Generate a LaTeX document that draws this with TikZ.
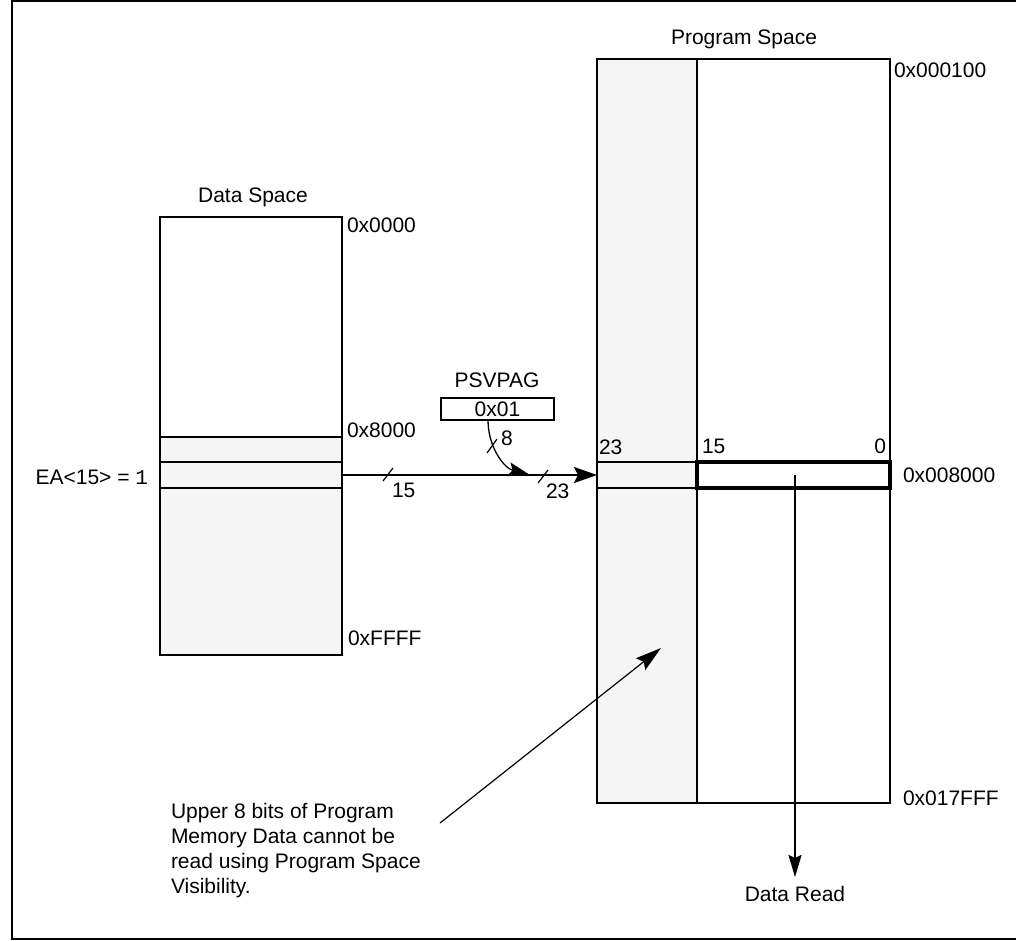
\documentclass[tikz,border=0pt]{standalone}
\usepackage{fontspec}
\setmainfont{Liberation Sans}
\newfontfamily\monofnt{Liberation Mono}
\usetikzlibrary{arrows.meta}
\definecolor{memgray}{RGB}{245,245,245}
\begin{document}
\begin{tikzpicture}[x=1pt,y=-1pt,
  every node/.style={font=\fontsize{21}{25}\selectfont, inner sep=0pt, outer sep=0pt},
  box/.style={draw, line width=2pt},
  lbl/.style={anchor=base west},
  bigtip/.style={-{Stealth[length=23pt,width=16pt,inset=4pt]}},
  midtip/.style={-{Stealth[length=22pt,width=14pt,inset=4pt]}},
  smalltip/.style={-{Stealth[length=22pt,width=13pt,inset=3pt]}},
  slash/.style={line width=1.2pt}]
\useasboundingbox (0,0) rectangle (1016,940);
% frame
\draw[line width=2pt] (1016,1) -- (12,1) -- (12,939) -- (1016,939);

% ---------- Data space ----------
\fill[memgray] (160,437) rectangle (342,655);
\node[box, minimum width=182pt, minimum height=438pt] (ds) at (251,436) {};
\draw[line width=2pt] (ds.west |- 0,437) -- (ds.east |- 0,437);
\node[box, minimum width=182pt, minimum height=26pt] (dsrow) at (251,475) {};
\node[anchor=base] (dstitle) at (253,202.5) {Data Space};
\node[lbl] (d0) at (347,232.5) {0x0000};
\node[lbl] (d8) at (347,437.5) {0x8000};
\node[lbl] (dF) at (348,645.5) {0xFFFF};
\node[anchor=base east] (ea) at (148,484.5) {EA<15> = {\monofnt 1}};

% ---------- Program space ----------
\fill[memgray] (597,59) rectangle (697,803);
\node[box, minimum width=293pt, minimum height=744pt] (ps) at (743.5,431) {};
\draw[line width=2pt] (697,59) -- (697,803);
\node[box, minimum width=100pt, minimum height=26pt] (pgrow) at (647,475) {};
\node[draw, line width=3.5pt, minimum width=193pt, minimum height=26pt] (pgdata) at (793.5,475) {};
\node[anchor=base] (pstitle) at (744,44.5) {Program Space};
\node[lbl] (p1) at (894,77.5) {0x000100};
\node[lbl] (p8) at (903,482) {0x008000};
\node[lbl] (pF) at (903,805) {0x017FFF};
\node[lbl] (b23) at (599,454) {23};
\node[lbl] (b15) at (702,453) {15};
\node[anchor=base east] (b0) at (886,453) {0};

% ---------- PSVPAG ----------
\node[draw, line width=2pt, minimum width=113pt, minimum height=22pt] (psv) at (497.5,409) {0x01};
\node[anchor=base] (psvl) at (497,387) {PSVPAG};

% ---------- connectors ----------
\coordinate (join) at (530,475);
\draw[line width=1.7pt, bigtip] (dsrow.east) -- (pgrow.west);
\draw[line width=1.3pt, midtip] ([xshift=-9.5pt]psv.south) to[out=-90,in=165] (join);
\draw[slash] (383,481) -- (393,468);
\draw[slash] (538,483) -- (548,470);
\draw[slash] (487,453) -- (497,439);
\node[lbl] (w15) at (392,497) {15};
\node[lbl] (w23) at (546,498) {23};
\node[lbl] (w8) at (501,445) {8};

\coordinate (drtip) at (795,877);
\draw[line width=2pt, smalltip] ([xshift=1.5pt]pgdata.center) -- (drtip);
\node[anchor=base] (dr) at (795,901) {Data Read};

\node[anchor=north west, align=left] (note) at (171,803)
  {Upper 8 bits of Program\\Memory Data cannot be\\read using Program Space\\Visibility.};
\coordinate (ann) at (440,823);
\coordinate (anntip) at (661,648);
\draw[line width=1.2pt, -{Stealth[length=26pt,width=15pt,inset=4pt]}] (ann) -- (anntip);
\end{tikzpicture}
\end{document}
